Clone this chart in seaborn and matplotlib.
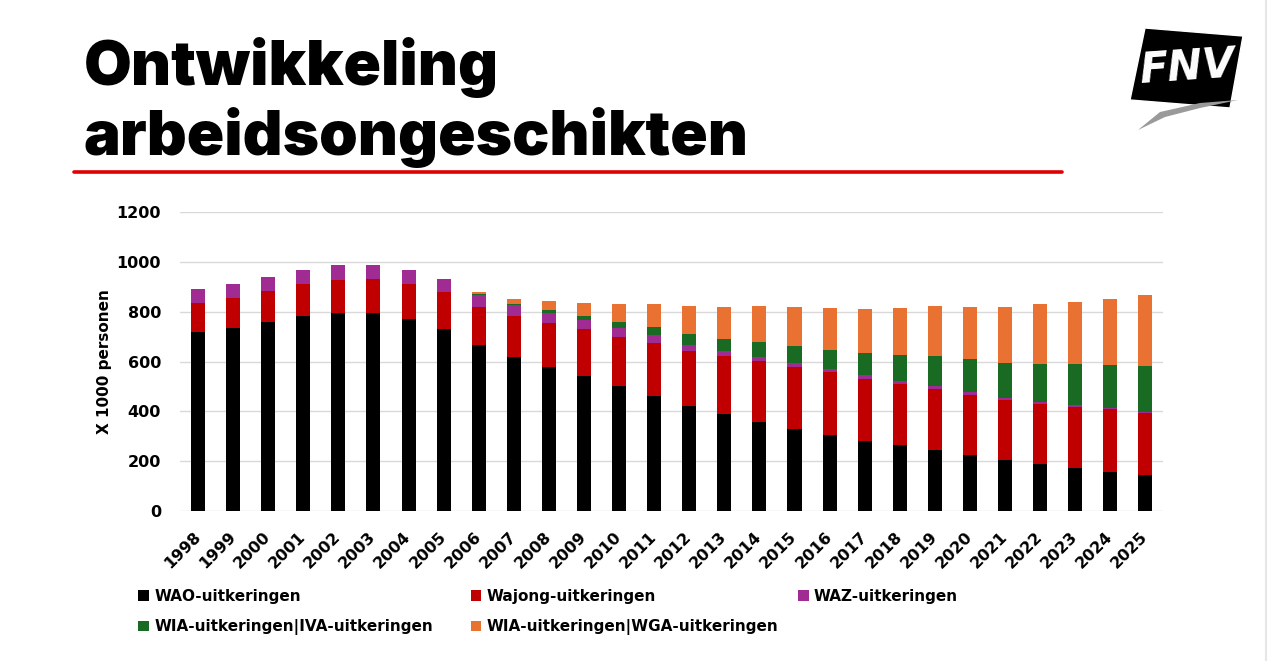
import matplotlib

matplotlib.use("Agg")

import matplotlib.pyplot as plt
import pandas as pd
import seaborn as sns
from matplotlib.lines import Line2D
from matplotlib.patches import Patch, Polygon

years = [str(y) for y in range(1998, 2026)]
wao = [718, 734, 758, 783, 795, 795, 770, 730, 667, 620, 580, 543, 503, 463,
       423, 391, 358, 330, 306, 282, 266, 246, 225, 205, 189, 173, 157, 145]
wajong = [117, 121, 125, 128, 132, 136, 141, 149, 153, 161, 173, 186, 197, 213,
          221, 233, 246, 250, 250, 249, 245, 245, 242, 242, 242, 246, 251, 247]
waz = [56, 56, 56, 56, 61, 57, 56, 52, 48, 46, 41, 36, 33, 29,
       24, 20, 16, 16, 13, 14, 12, 12, 12, 8, 8, 8, 4, 4]
iva = [0, 0, 0, 0, 0, 0, 0, 0, 5, 4, 11, 16, 24, 32,
       41, 48, 60, 68, 79, 91, 105, 121, 133, 141, 153, 165, 176, 188]
wga = [0, 0, 0, 0, 0, 0, 0, 0, 8, 22, 36, 52, 72, 92,
       112, 125, 141, 153, 165, 173, 185, 197, 205, 221, 237, 245, 265, 282]

series_names = ["WAO-uitkeringen", "Wajong-uitkeringen", "WAZ-uitkeringen",
                "WIA-uitkeringen|IVA-uitkeringen", "WIA-uitkeringen|WGA-uitkeringen"]
colors = ["#000000", "#C00000", "#A02B93", "#196B24", "#E97132"]

df = pd.DataFrame({"year": years, series_names[0]: wao, series_names[1]: wajong,
                   series_names[2]: waz, series_names[3]: iva, series_names[4]: wga})
cum = df[series_names].cumsum(axis=1)

sns.set_style("white")
plt.rcParams.update({"text.color": "black", "axes.labelcolor": "black",
                     "xtick.color": "black", "ytick.color": "black"})

fig = plt.figure(figsize=(12.69, 6.61), dpi=100)
ax = fig.add_axes([0.1422, 0.2269, 0.7742, 0.4523])

# draw stacked bars from the top layer down
for name, color in reversed(list(zip(series_names, colors))):
    sns.barplot(x=df["year"], y=cum[name], color=color, saturation=1,
                width=0.4, errorbar=None, linewidth=0, edgecolor="none",
                ax=ax, zorder=2)

ax.set_ylim(0, 1200)
ax.set_xlim(-0.5, len(years) - 0.5)
ax.set_yticks(range(0, 1201, 200))
ax.yaxis.grid(True, color="#D9D9D9", linewidth=1, zorder=0)
ax.set_axisbelow(True)
sns.despine(ax=ax, left=True, bottom=True)
ax.tick_params(axis="y", length=0, pad=14, labelsize=11.5)
ax.tick_params(axis="x", length=0, pad=17, labelsize=11.5)
for lab in ax.get_yticklabels():
    lab.set_fontweight("bold")
for lab in ax.get_xticklabels():
    lab.set_fontweight("bold")
    lab.set_rotation(45)
    lab.set_ha("right")
    lab.set_va("center")
    lab.set_rotation_mode("anchor")
ax.set_xlabel("")
ax.set_ylabel("X 1000 personen", fontsize=11, fontweight="bold", labelpad=3.5)

# legend laid out in rows like the original (three fixed columns)
handles = [Patch(facecolor=c, edgecolor="none") for c in colors]
legend_cols = [(0.104, [0, 3]), (0.366, [1, 4]), (0.624, [2])]
for x0, idx in legend_cols:
    fig.legend([handles[i] for i in idx], [series_names[i] for i in idx],
               loc="upper left", bbox_to_anchor=(x0, 0.118), frameon=False,
               prop={"weight": "bold", "size": 11}, handlelength=0.7, handleheight=0.7,
               handletextpad=0.35, labelspacing=1.0, borderaxespad=0)

# title block
title_font = ["Inter", "DejaVu Sans"]
fig.text(0.066, 1 - 85 / 661, "Ontwikkeling", fontsize=44.5, fontweight="black",
         family=title_font, va="baseline", ha="left")
fig.text(0.066, 1 - 155 / 661, "arbeidsongeschikten", fontsize=44.5, fontweight="black",
         family=title_font, va="baseline", ha="left")
fig.add_artist(Line2D([74 / 1269, 1062 / 1269], [1 - 171.5 / 661] * 2,
                      color="#E00000", linewidth=2.6, transform=fig.transFigure))

# rough FNV logo
logo = Polygon([[1130 / 1269, 1 - 100 / 661], [1145 / 1269, 1 - 28 / 661],
                [1243 / 1269, 1 - 36 / 661], [1230 / 1269, 1 - 108 / 661]],
               closed=True, facecolor="black", transform=fig.transFigure)
fig.add_artist(logo)
swoosh = Polygon([[1138 / 1269, 1 - 130 / 661], [1160 / 1269, 1 - 112 / 661],
                  [1200 / 1269, 1 - 103 / 661], [1238 / 1269, 1 - 100 / 661],
                  [1200 / 1269, 1 - 108 / 661], [1165 / 1269, 1 - 117 / 661]],
                 closed=True, facecolor="#9A9A9A", edgecolor="none",
                 transform=fig.transFigure)
fig.add_artist(swoosh)
fig.text(1187 / 1269, 1 - 68 / 661, "FNV", color="white", fontsize=30,
         fontweight="black", style="italic", rotation=4, ha="center", va="center",
         family=["DejaVu Sans"])
fig.add_artist(Line2D([1266 / 1269] * 2, [0, 1], color="#E6E6E6", linewidth=1.5,
                      transform=fig.transFigure))

fig.savefig("out.png", dpi=100)
